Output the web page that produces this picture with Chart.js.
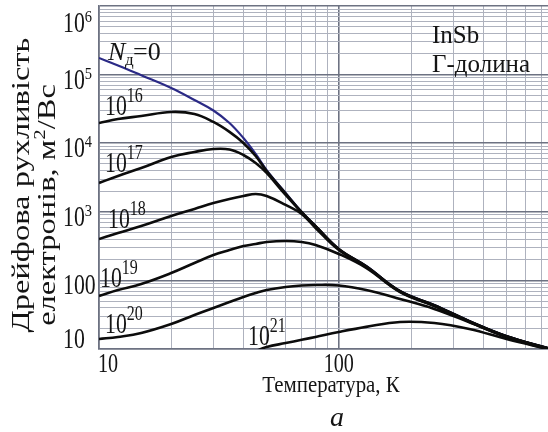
<!DOCTYPE html>
<html>
<head>
<meta charset="utf-8">
<script src="https://cdn.jsdelivr.net/npm/chart.js@4.4.1/dist/chart.umd.min.js"></script>
<style>
  html, body { margin: 0; padding: 0; background: #fff; }
</style>
</head>
<body>
<canvas id="mobility" width="548" height="432"></canvas>
<script>
// temperature grid, K
const temps = [10, 12, 15, 20, 25, 30, 35, 40, 45, 50, 60, 70, 80, 100, 130, 180, 250, 350, 500, 745];

// drift mobility, m^2/Vs, for each donor concentration
const muN0  = [175000, 136000, 98000, 63800, 42700, 30000, 19700, 11900, 6960, 4060, 1880, 993, 621, 287, 162, 70, 43.8, 25.6, 15.5, 10.3];
const mu16  = [19700, 22500, 24900, 28500, 26700, 20400, 14600, 10070, 6500, 3930, 1850, 985, 618, 286, 161, 69.5, 43.5, 25.5, 15.4, 10.3];
const mu17  = [2630, 3330, 4350, 6290, 7440, 8230, 8100, 6730, 5140, 3680, 1760, 980, 615, 285, 160, 69, 43.2, 25.3, 15.3, 10.2];
const mu18  = [401, 491, 621, 869, 1100, 1340, 1540, 1700, 1820, 1700, 1260, 930, 581, 277, 158, 68.5, 42.8, 25.1, 15.2, 10.2];
const mu19  = [59.3, 72.4, 88.7, 128, 179, 234, 277, 317, 340, 363, 375, 363, 328, 243, 152, 67.5, 42.4, 25, 15.1, 10.1];
const mu20  = [14.0, 15.0, 17.1, 23.1, 31.3, 39.6, 48.4, 57.3, 65.5, 72.4, 80.2, 84.3, 85.7, 84.3, 72.4, 53.6, 38.3, 24.5, 15, 9.9];
const mu21  = [null, null, null, null, null, null, null, null, 9.35, 10.7, 12.2, 13.6, 15.0, 17.7, 21, 24.8, 23.9, 19.6, 14, 10];

const dopedSeries = [mu16, mu17, mu18, mu19, mu20, mu21];
const dopingExp   = ['16', '17', '18', '19', '20', '21'];

// axis labels
const yTickValues = [10, 100, 1e3, 1e4, 1e5, 1e6];
const yTickBase   = ['10', '100', '10', '10', '10', '10'];
const yTickSup    = ['', '', '3', '4', '5', '6'];
const xTickValues = [10, 100];
const xTickText   = ['10', '100'];

const SERIF = '"Liberation Serif", "Times New Roman", serif';
const MAJOR = '#6d7282';
const MINOR = '#aeb2be';
const INK = '#141414';

function logGrid(lo, hi, top) {
  const t = [];
  for (let e = lo; e < hi; e++)
    for (let m = 1; m < 10; m++) {
      const v = m * Math.pow(10, e);
      if (v <= top) t.push(v);
    }
  if (Math.pow(10, hi) <= top) t.push(Math.pow(10, hi));
  return t;
}
function isDecade(v) {
  const l = Math.log10(v);
  return Math.abs(l - Math.round(l)) < 1e-9;
}

// "10" with a raised exponent, squeezed horizontally like the rest of the lettering
function powText(ctx, base, sup, x, y, o) {
  ctx.save();
  ctx.font = o.size + 'px ' + SERIF;
  const w = ctx.measureText(base).width * o.sx;
  ctx.translate(x, y);
  ctx.scale(o.sx, 1);
  ctx.fillText(base, 0, 0);
  ctx.restore();
  if (sup) {
    ctx.save();
    ctx.font = o.supSize + 'px ' + SERIF;
    ctx.translate(x + w, y - o.rise);
    ctx.scale(o.supSx, 1);
    ctx.fillText(sup, 0, 0);
    ctx.restore();
  }
}
function plainText(ctx, s, x, y, font, sx, align) {
  ctx.save();
  ctx.font = font;
  ctx.textAlign = align || 'left';
  ctx.translate(x, y);
  ctx.scale(sx, 1);
  ctx.fillText(s, 0, 0);
  ctx.restore();
}

const labelsPlugin = {
  id: 'labels',
  afterDraw(chart) {
    const ctx = chart.ctx;
    const xs = chart.scales.x, ys = chart.scales.y;
    ctx.save();
    ctx.fillStyle = INK;
    ctx.textBaseline = 'alphabetic';

    // y ticks, left aligned
    const tickOpt = { size: 29, sx: 0.75, supSize: 17, supSx: 0.85, rise: 10 };
    yTickValues.forEach((v, i) => {
      const py = Math.min(Math.max(ys.getPixelForValue(v) + 14, 32), 348);
      powText(ctx, yTickBase[i], yTickSup[i], 63, py, tickOpt);
    });

    // x ticks
    xTickValues.forEach((v, i) => {
      ctx.font = '28px ' + SERIF;
      const w = ctx.measureText(xTickText[i]).width * 0.72;
      let px = xs.getPixelForValue(v) - w / 2;
      px = Math.max(px, 98);
      plainText(ctx, xTickText[i], px, 372, '28px ' + SERIF, 0.72);
    });

    plainText(ctx, 'Температура, К', 331, 392, '24px ' + SERIF, 0.87, 'center');
    plainText(ctx, 'а', 337, 426, 'italic 28px ' + SERIF, 1, 'center');

    // y title, two rotated lines
    ctx.save();
    ctx.translate(29, 185);
    ctx.rotate(-Math.PI / 2);
    ctx.scale(1.3, 1);
    ctx.font = '25px ' + SERIF;
    ctx.textAlign = 'center';
    ctx.fillText('Дрейфова рухливість', 0, 0);
    ctx.restore();

    ctx.save();
    ctx.translate(55, 205);
    ctx.rotate(-Math.PI / 2);
    ctx.scale(1.3, 1);
    ctx.font = '25px ' + SERIF;
    const p1 = 'електронів, м', p3 = '/Вс';
    const w1 = ctx.measureText(p1).width, w3 = ctx.measureText(p3).width;
    ctx.font = '16px ' + SERIF;
    const w2 = ctx.measureText('2').width;
    const x0 = -(w1 + w2 + w3) / 2;
    ctx.font = '25px ' + SERIF;
    ctx.fillText(p1, x0, 0);
    ctx.font = '16px ' + SERIF;
    ctx.fillText('2', x0 + w1, -10);
    ctx.font = '25px ' + SERIF;
    ctx.fillText(p3, x0 + w1 + w2, 0);
    ctx.restore();

    // material note
    plainText(ctx, 'InSb', 432, 43, '25px ' + SERIF, 1);
    plainText(ctx, 'Г-долина', 432, 72, '25px ' + SERIF, 1);

    // curve labels
    plainText(ctx, 'N', 108, 60, 'italic 26px ' + SERIF, 1);
    plainText(ctx, 'д', 125, 65, '17px ' + SERIF, 1);
    plainText(ctx, '=0', 133, 60, '26px ' + SERIF, 1);
    const curveOpt = { size: 29, sx: 0.75, supSize: 20, supSx: 0.8, rise: 13 };
    const spots = [[105, 115], [105, 172], [108, 228], [100, 287], [105, 333], [248, 345]];
    dopingExp.forEach((e, i) => powText(ctx, '10', e, spots[i][0], spots[i][1], curveOpt));

    ctx.restore();
  }
};

const datasets = dopedSeries.map((s, i) => ({
  label: '10^' + dopingExp[i],
  data: s,
  borderColor: '#0c0c0c',
  borderWidth: 2.6,
  order: i
}));
datasets.push({
  label: 'N=0',
  data: muN0,
  borderColor: '#2b2a86',
  borderWidth: 2.2,
  order: 10
});

new Chart(document.getElementById('mobility').getContext('2d'), {
  type: 'line',
  data: { labels: temps, datasets: datasets },
  plugins: [labelsPlugin],
  options: {
    responsive: false,
    animation: false,
    events: [],
    layout: { padding: { left: 99, right: 0, top: 6, bottom: 83 } },
    elements: {
      point: { radius: 0 },
      line: { tension: 0.4, fill: false }
    },
    plugins: { legend: { display: false }, tooltip: { enabled: false } },
    scales: {
      x: {
        type: 'logarithmic',
        min: 10, max: 745,
        afterBuildTicks: s => { s.ticks = logGrid(1, 3, 745).map(v => ({ value: v })); },
        ticks: { display: false },
        grid: {
          drawTicks: false,
          color: c => isDecade(c.tick.value) ? MAJOR : MINOR,
          lineWidth: c => isDecade(c.tick.value) ? 1.6 : 1
        },
        border: { color: MAJOR, width: 1.6 }
      },
      y: {
        type: 'logarithmic',
        min: 10, max: 1e6,
        afterBuildTicks: s => { s.ticks = logGrid(1, 6, 1e6).map(v => ({ value: v })); },
        ticks: { display: false },
        grid: {
          drawTicks: false,
          color: c => isDecade(c.tick.value) ? MAJOR : MINOR,
          lineWidth: c => isDecade(c.tick.value) ? 1.6 : 1
        },
        border: { color: MAJOR, width: 1.6 }
      }
    }
  }
});
</script>
</body>
</html>
